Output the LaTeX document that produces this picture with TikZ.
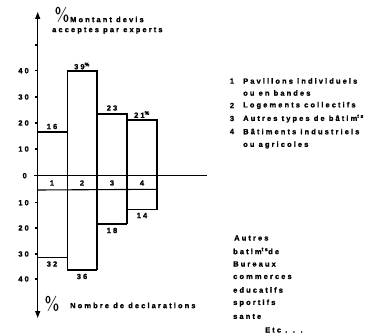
\documentclass[tikz,border=0pt]{standalone}
\usepackage{fontspec}
\newfontfamily\lab{Liberation Sans}[LetterSpace=28, UprightFont=* Bold, FakeBold=1.2]
\usetikzlibrary{arrows.meta}
\begin{document}
\begin{tikzpicture}[x=1pt,y=-1pt,
  ln/.style={line width=1.1pt,black},
  txt/.style={font=\lab\fontsize{7.5}{8}\selectfont,inner sep=0pt},
  num/.style={txt,anchor=center},
  tk/.style={txt,anchor=east},
  lg/.style={txt,anchor=west},
  pct/.style={font=\fontsize{19}{19}\selectfont\sffamily,inner sep=0pt}]
\useasboundingbox (0,0) rectangle (382,336);
% axis
\coordinate (atop) at (37.7,12);
\coordinate (abot) at (37.7,318);
\draw[ln,-{Triangle[length=7pt,width=5pt]}] (37.7,175.7) -- (atop);
\draw[ln,-{Triangle[length=7pt,width=5pt]}] (37.7,175.7) -- (abot);
% ticks
\foreach \y in {45,70.7,97,123,149,202.7,228,254,279}
  \draw[ln] (34.5,\y) -- (37.7,\y);
\node[tk] (t40) at (29,70.7) {40};
\node[tk] (t30) at (29,97) {30};
\node[tk] (t20) at (29,123) {20};
\node[tk] (t10) at (29,149) {10};
\node[tk] (t0) at (27,175.7) {0};
\node[tk] (b10) at (29,202.7) {10};
\node[tk] (b20) at (29,228) {20};
\node[tk] (b30) at (29,254) {30};
\node[tk] (b40) at (29,279) {40};
% zero line and band
\draw[ln] (34,175.7) -- (207,175.7);
\draw[ln] (37.7,190) -- (157,189.3);
% upper bars
\draw[ln] (37.7,175.7) |- (67.3,132) -- (67.3,175.7);
\draw[ln] (67.3,175.7) |- (97,71) -- (97,175.7);
\draw[ln] (97,175.7) |- (127,114) -- (127,175.7);
\draw[ln] (127,175.7) |- (157,120) -- (157,175.7);
% lower bars
\draw[ln] (37.7,257.3) -- (67.3,257.3);
\draw[ln] (67.3,175.7) -- (67.3,270) -- (97,270);
\draw[ln] (97,175.7) -- (97,270);
\draw[ln] (97,224) -- (127,224);
\draw[ln] (127,175.7) -- (127,224);
\draw[ln] (127,209.5) -- (157,209.5) -- (157,175.7);
% bar value labels
\node[num] (v1) at (52,126.5) {16};
\node[num] (v2) at (82,66) {39\textsuperscript{\%}};
\node[num] (v3) at (112,108) {23};
\node[num] (v4) at (142,114.5) {21\textsuperscript{\%}};
\node[num] (n1) at (52,183) {1};
\node[num] (n2) at (82,183) {2};
\node[num] (n3) at (112,183) {3};
\node[num] (n4) at (142,183) {4};
\node[num] (w1) at (52,264) {32};
\node[num] (w2) at (82,276.5) {36};
\node[num] (w3) at (112,230.5) {18};
\node[num] (w4) at (142,215.5) {14};
% titles
\node[pct] (pc1) at (62,15) {\%};
\node[lg] (tt1) at (70,19.5) {Montant devis};
\node[lg] (tt2) at (52,30.5) {acceptes par experts};
\node[pct] (pc2) at (52,304) {\%};
\node[lg] (tt3) at (70,305.5) {Nombre de declarations};
% legend
\node[num] (l1) at (232,81) {1};
\node[lg] (lt1) at (243,81) {Pavillons individuels};
\node[lg] (lt1b) at (243,93) {ou en bandes};
\node[num] (l2) at (232,105.5) {2};
\node[lg] (lt2) at (243,105.5) {Logements collectifs};
\node[num] (l3) at (232,118.5) {3};
\node[lg] (lt3) at (243,118.5) {Autres types de b\^atim\textsuperscript{ts}};
\node[num] (l4) at (232,131.5) {4};
\node[lg] (lt4) at (243,131.5) {B\^atiments industriels};
\node[lg] (lt4b) at (243,145) {ou agricoles};
% lower legend
\node[lg] (o1) at (234,238) {Autres};
\node[lg] (o2) at (233,251) {batim\textsuperscript{ts}de};
\node[lg] (o3) at (233,264) {Bureaux};
\node[lg] (o4) at (233,277) {commerces};
\node[lg] (o5) at (233,290) {educatifs};
\node[lg] (o6) at (233,303) {sportifs};
\node[lg] (o7) at (233,316.5) {sante};
\node[lg] (o8) at (265,330) {Etc . . .};
\end{tikzpicture}
\end{document}
